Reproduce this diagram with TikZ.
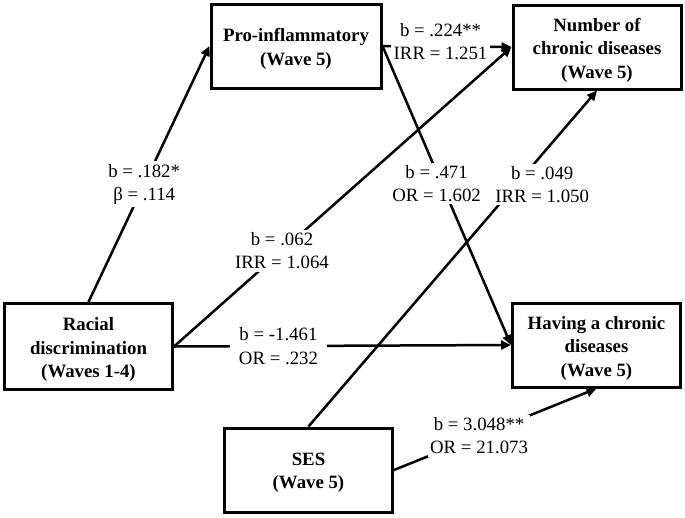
\documentclass[tikz,border=0pt]{standalone}
\usepackage{fontspec}
\setmainfont{Liberation Serif}
\usetikzlibrary{arrows.meta}
\begin{document}
\begin{tikzpicture}[x=1pt,y=-1pt,
  box/.style={draw, line width=3pt, inner sep=0pt, minimum width=168pt, minimum height=84pt},
  boxtext/.style={align=center, inner sep=0pt, yshift=-3pt,
    font=\bfseries\fontsize{18.8}{23.5}\selectfont},
  arr/.style={line width=2.5pt, -{Triangle[length=10pt,width=9pt]}},
  lbl/.style={fill=white, align=center, inner sep=2.5pt,
    font=\fontsize{18.8}{23.5}\selectfont}]
\useasboundingbox (0,0) rectangle (685,517);
\node[box, minimum width=170pt, label={[boxtext]center:Pro-inflammatory\\(Wave 5)}] (pro) at (296,46) {};
\node[box, label={[boxtext]center:Number of\\chronic diseases\\(Wave 5)}] (num) at (597,47) {};
\node[box, minimum height=86pt, label={[boxtext]center:Racial\\discrimination\\(Waves 1-4)}] (rac) at (88.5,346.5) {};
\node[box, label={[boxtext]center:Having a chronic\\diseases\\(Wave 5)}] (hav) at (596.5,345) {};
\node[box, label={[boxtext]center:SES\\(Wave 5)}] (ses) at (308.5,470) {};

\draw[arr] (rac.north) -- (pro.west);
\draw[arr] (rac.east) -- (num.west);
\draw[arr] (rac.east) -- (hav.west);
\draw[arr] (pro.east) -- (num.west);
\draw[arr] (pro.east) -- (hav.west);
\draw[arr] (ses.north) -- (num.south);
\draw[arr] (ses.east) -- (hav.south);

\path (rac.north) -- (pro.west) node[lbl, pos=0.46] (l1) {b = .182*\\β = .114};
\path (rac.east) -- (num.west) node[lbl, pos=0.32] (l2) {b = .062\\IRR = 1.064};
\path (rac.east) -- (hav.west) node[lbl, pos=0.31, inner xsep=9pt] (l3) {b = -1.461\\OR = .232};
\path (pro.east) -- (num.west) node[lbl, pos=0.45, yshift=5pt] (l4) {b = .224**\\IRR = 1.251};
\path (pro.east) -- (hav.west) node[lbl, pos=0.46, xshift=-5pt] (l5) {b = .471\\OR = 1.602};
\path (ses.north) -- (num.south) node[lbl, pos=0.72, xshift=26pt] (l6) {b = .049\\IRR = 1.050};
\path (ses.east) -- (hav.south) node[lbl, pos=0.42] (l7) {b = 3.048**\\OR = 21.073};
\end{tikzpicture}
\end{document}
